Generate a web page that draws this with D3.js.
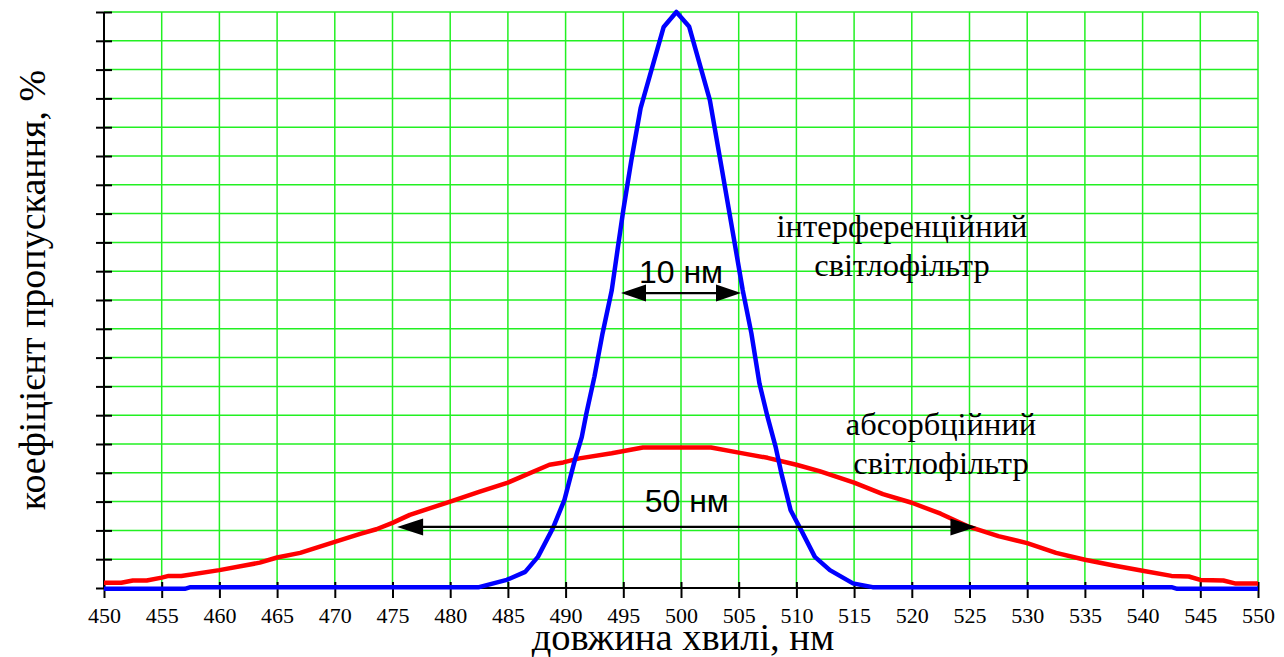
<!DOCTYPE html>
<html>
<head>
<meta charset="utf-8">
<script src="https://cdn.jsdelivr.net/npm/d3@7"></script>
<style>
  html, body { margin: 0; padding: 0; background: #fff; }
  svg { display: block; }
</style>
</head>
<body>
<svg id="chart" width="1284" height="657"></svg>
<script>
// Wavelength ticks (nm) and transmittance grid steps (%)
const xTicks = d3.range(450, 551, 5);
const yTicks = d3.range(0, 101, 5);

// Interference filter: wavelength (nm) and transmittance (%)
const interfWave = [450, 457, 457.5, 482.5, 484.9, 486.5, 487.6, 488.9, 489.9, 490.8, 491.4, 491.8, 492.5, 493.2, 494.0, 494.5, 495.0, 495.7, 496.5, 498.5, 499.6, 500.7, 502.5, 503.5, 504.5, 505.35, 506.1, 506.8, 507.5, 508.2, 508.7, 509.5, 510.4, 511.6, 512.9, 514.9, 516.6, 542.5, 543, 550];
const interfValue = [-0.15, -0.15, 0.15, 0.15, 1.4, 2.8, 5.4, 10.4, 15.3, 22.2, 26.2, 30.3, 36.7, 44.2, 51.7, 58.7, 65.6, 74.3, 83.3, 97.4, 100, 97.5, 84.7, 73.2, 61.6, 51.7, 44.2, 35.5, 29.7, 24.5, 19.9, 13.5, 10.1, 5.4, 3.1, 0.8, 0.15, 0.15, -0.15, -0.15];

// Absorption filter: wavelength (nm) and transmittance (%)
const absorbWave = [450, 451.5, 452.5, 453.7, 455, 455.6, 456.7, 460, 463.5, 465, 467, 470, 472.2, 473.6, 475, 476.5, 480, 482.5, 485, 488.6, 489.8, 491.2, 494, 496.7, 502.6, 505, 507.5, 510, 512, 515, 517.5, 520, 522.5, 525, 527.5, 530, 532.5, 535, 537.5, 540, 542.5, 544, 545, 547, 548, 550];
const absorbValue = [0.9, 0.9, 1.3, 1.3, 1.8, 2.1, 2.1, 3.1, 4.4, 5.3, 6.1, 8.0, 9.4, 10.2, 11.3, 12.7, 15.0, 16.7, 18.3, 21.4, 21.8, 22.5, 23.4, 24.4, 24.4, 23.5, 22.6, 21.4, 20.3, 18.3, 16.3, 14.8, 12.9, 10.6, 9.0, 7.8, 6.1, 4.9, 3.9, 3.0, 2.1, 2.0, 1.4, 1.3, 0.8, 0.8];

// Bandwidth markers: [from nm, to nm, level %, label]
const narrowBand = [494.8, 505.2, 51.2, "10 нм"];
const wideBand = [475.4, 525.6, 10.6, "50 нм"];

const svg = d3.select("#chart");
const x = d3.scaleLinear().domain([450, 550]).range([104, 1258]);
const y = d3.scaleLinear().domain([0, 100]).range([588, 12]);

const serif = "'Liberation Serif', 'Times New Roman', serif";
const sans = "'Liberation Sans', Arial, sans-serif";
const gridColor = "#22f022";

// Grid
const grid = svg.append("g");
grid.selectAll("line.v").data(xTicks).join("line")
  .attr("x1", d => x(d)).attr("x2", d => x(d))
  .attr("y1", y(100)).attr("y2", y(0))
  .attr("stroke", gridColor).attr("stroke-width", 1.5);
grid.selectAll("line.h").data(yTicks).join("line")
  .attr("x1", x(450)).attr("x2", x(550))
  .attr("y1", d => y(d)).attr("y2", d => y(d))
  .attr("stroke", gridColor).attr("stroke-width", 1.5);

// Axes: ticks cross the axis lines
const yAxis = d3.axisLeft(y).tickValues(yTicks).tickSize(16).tickFormat("");
const yG = svg.append("g").attr("transform", `translate(${x(450) + 8},0)`).call(yAxis);
yG.select(".domain").remove();
yG.selectAll(".tick line").attr("stroke", "#000").attr("stroke-width", 2);

const xAxis = d3.axisBottom(x).tickValues(xTicks).tickSize(16).tickPadding(9).tickFormat(d3.format("d"));
const xG = svg.append("g").attr("transform", `translate(0,${y(0) - 6})`).call(xAxis);
xG.select(".domain").remove();
xG.selectAll(".tick line").attr("stroke", "#000").attr("stroke-width", 2);
xG.selectAll(".tick text").attr("fill", "#000")
  .style("font-family", serif).style("font-size", "22px");

svg.append("line").attr("x1", x(450)).attr("x2", x(450)).attr("y1", y(100)).attr("y2", y(0))
  .attr("stroke", "#000").attr("stroke-width", 2);
svg.append("line").attr("x1", x(450)).attr("x2", x(550)).attr("y1", y(0)).attr("y2", y(0))
  .attr("stroke", "#000").attr("stroke-width", 2);

// Curves
const line = d3.line().x(d => x(d[0])).y(d => y(d[1]));
svg.append("path").datum(d3.zip(absorbWave, absorbValue))
  .attr("d", line).attr("fill", "none").attr("stroke", "#ff0000")
  .attr("stroke-width", 4.5).attr("stroke-linejoin", "round");
svg.append("path").datum(d3.zip(interfWave, interfValue))
  .attr("d", line).attr("fill", "none").attr("stroke", "#0000ff")
  .attr("stroke-width", 4.5).attr("stroke-linejoin", "round");

// Double-headed width arrows
function bandArrow([from, to, level, label], head, half, labelDy) {
  const x0 = x(from), x1 = x(to), yy = y(level);
  const g = svg.append("g");
  g.append("line").attr("x1", x0 + head - 2).attr("x2", x1 - head + 2)
    .attr("y1", yy).attr("y2", yy).attr("stroke", "#000").attr("stroke-width", 2.2);
  g.append("path").attr("d", `M${x0},${yy}L${x0 + head},${yy - half}L${x0 + head},${yy + half}Z`).attr("fill", "#000");
  g.append("path").attr("d", `M${x1},${yy}L${x1 - head},${yy - half}L${x1 - head},${yy + half}Z`).attr("fill", "#000");
  g.append("text").attr("x", (x0 + x1) / 2).attr("y", yy + labelDy)
    .attr("text-anchor", "middle").style("font-family", sans).style("font-size", "32px")
    .attr("fill", "#000").text(label);
}
bandArrow(narrowBand, 25, 8.5, -10);
bandArrow(wideBand, 26, 8.5, -15);

// Filter labels
function twoLine(cx, base, lines) {
  const t = svg.append("text").attr("text-anchor", "middle")
    .style("font-family", serif).style("font-size", "32.5px").attr("fill", "#000");
  lines.forEach((s, i) => t.append("tspan").attr("x", cx).attr("y", base + i * 38.5).text(s));
}
twoLine(902, 237, ["інтерференційний", "світлофільтр"]);
twoLine(941, 435, ["абсорбційний", "світлофільтр"]);

// Axis titles
svg.append("text").attr("x", 683).attr("y", 650).attr("text-anchor", "middle")
  .style("font-family", serif).style("font-size", "38.5px").attr("fill", "#000")
  .text("довжина хвилі, нм");
svg.append("text").attr("transform", "translate(45,290) rotate(-90)").attr("text-anchor", "middle")
  .style("font-family", serif).style("font-size", "38px").attr("fill", "#000")
  .text("коефіцієнт пропускання, %");
</script>
</body>
</html>
